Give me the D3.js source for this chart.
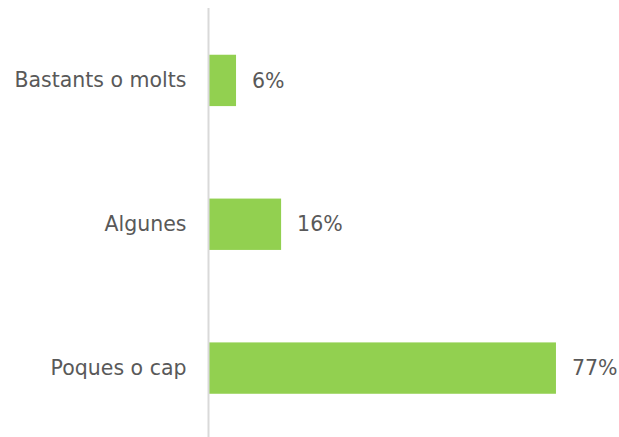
<!DOCTYPE html>
<html>
<head>
<meta charset="utf-8">
<script src="https://cdn.jsdelivr.net/npm/d3@7"></script>
<style>
  html, body { margin: 0; padding: 0; background: #ffffff; }
  svg { display: block; }
  text { font-family: "DejaVu Sans", "Open Sans", sans-serif; fill: #595959; }
</style>
</head>
<body>
<svg id="chart" width="619" height="437"></svg>
<script>
// Share of respondents by answer
const categories = ["Bastants o molts", "Algunes", "Poques o cap"];
const values = [0.06, 0.16, 0.77];
const valueLabels = ["6%", "16%", "77%"];

const width = 619, height = 437;
const axisX = 208.5;
const fontSize = 20.5;
const svg = d3.select("#chart");

const y = d3.scaleBand()
  .domain(categories)
  .range([8.5, 440])
  .paddingInner(0.643)
  .paddingOuter(0.3215);

const x = d3.scaleLinear()
  .domain([0, 0.8])
  .range([axisX + 0.5, axisX + 0.5 + 0.8 * 450.6]);

// bars
svg.append("g")
  .selectAll("rect")
  .data(categories)
  .join("rect")
  .attr("x", x(0))
  .attr("y", d => y(d))
  .attr("width", (d, i) => x(values[i]) - x(0))
  .attr("height", y.bandwidth())
  .attr("fill", "#92D050");

// category axis (labels only, with a light vertical line)
const axis = d3.axisLeft(y).tickSize(0).tickPadding(22);
const gAxis = svg.append("g")
  .attr("transform", `translate(${axisX},0)`)
  .call(axis);
gAxis.select(".domain").remove();
gAxis.selectAll("text")
  .attr("font-size", fontSize)
  .attr("font-family", null)
  .attr("fill", "#595959");

svg.append("line")
  .attr("x1", axisX).attr("x2", axisX)
  .attr("y1", 8).attr("y2", height)
  .attr("stroke", "#d9d9d9")
  .attr("stroke-width", 2);

// value labels
svg.append("g")
  .selectAll("text")
  .data(categories)
  .join("text")
  .attr("x", (d, i) => x(values[i]) + 16)
  .attr("y", d => y(d) + y.bandwidth() / 2)
  .attr("dy", "0.35em")
  .attr("font-size", fontSize)
  .text((d, i) => valueLabels[i]);
</script>
</body>
</html>
